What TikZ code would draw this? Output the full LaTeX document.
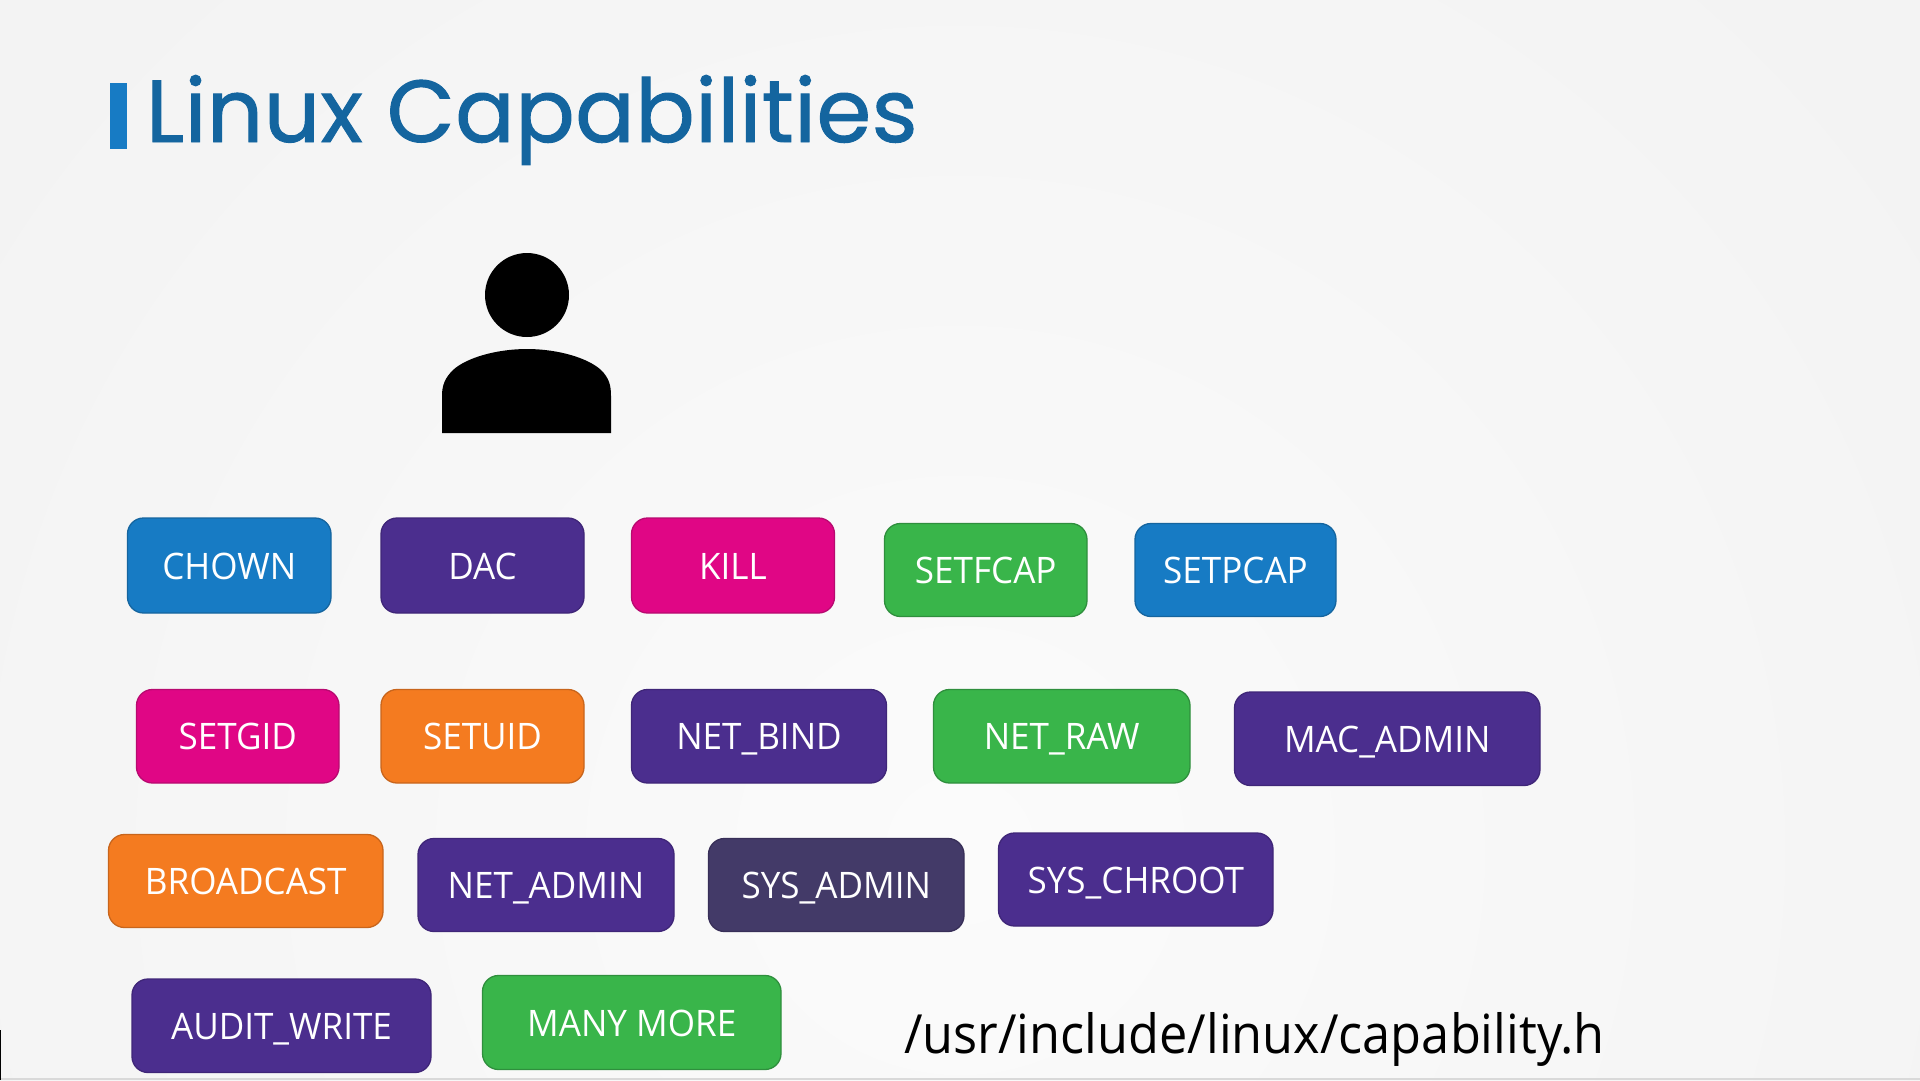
\documentclass[tikz,border=0pt]{standalone}
\usepackage{fontspec}
\setmainfont{Open Sans}
\newfontfamily\titlefont[FakeBold=1.1,LetterSpace=0.6]{Poppins}
\newfontfamily\capfont[FakeStretch=0.96]{Open Sans}
\newfontfamily\pathfont[FakeStretch=0.935]{Open Sans}
\definecolor{bgcol}{HTML}{F3F3F3}
\definecolor{bglight}{HTML}{FBFBFB}
\definecolor{capblue}{HTML}{177BC4}
\definecolor{capblueE}{HTML}{15659F}
\definecolor{cappurple}{HTML}{4B2E8E}
\definecolor{cappurpleE}{HTML}{3F2678}
\definecolor{capmagenta}{HTML}{E00685}
\definecolor{capmagentaE}{HTML}{B80A70}
\definecolor{capgreen}{HTML}{39B54A}
\definecolor{capgreenE}{HTML}{2F8F3D}
\definecolor{caporange}{HTML}{F47B20}
\definecolor{caporangeE}{HTML}{C8651C}
\definecolor{capslate}{HTML}{433A68}
\definecolor{capslateE}{HTML}{382F58}
\definecolor{titleblue}{HTML}{14659F}
\tikzset{
  x=1pt,y=-1pt,
  capnode/.style={rounded corners=16pt,line width=1.3pt,inner sep=0pt,text=white,
    font=\capfont\fontsize{36.5}{36.5}\selectfont,text height=27pt,text depth=0pt,align=center},
  sblue/.style={capnode,fill=capblue,draw=capblueE},
  spurple/.style={capnode,fill=cappurple,draw=cappurpleE},
  smagenta/.style={capnode,fill=capmagenta,draw=capmagentaE},
  sgreen/.style={capnode,fill=capgreen,draw=capgreenE},
  sorange/.style={capnode,fill=caporange,draw=caporangeE},
  sslate/.style={capnode,fill=capslate,draw=capslateE},
}
\newcommand{\capbox}[7]{% style,name,x0,y0,x1,y1,text
  \pgfmathsetmacro{\capw}{#5-#3}\pgfmathsetmacro{\caph}{#6-#4}
  \pgfmathsetmacro{\capx}{(#3+#5)/2}\pgfmathsetmacro{\capy}{(#4+#6)/2}
  \node[#1,minimum width=\capw pt,minimum height=\caph pt] (#2) at (\capx,\capy) {#7};}
\begin{document}
\begin{tikzpicture}
\useasboundingbox (0,0) rectangle (1920,1080);
\begin{scope}
\clip (0,0) rectangle (1920,1080);
\shade[inner color=bglight,outer color=bgcol] (-240,-350) rectangle (2160,2050);
\end{scope}
\fill[gray!30] (0,1078) rectangle (1920,1080);
\fill[black] (0,1030) rectangle (1.2,1080);
% title
\fill[capblue] (110,83) rectangle (126.5,149);
\node[anchor=base west,inner sep=0pt,text=titleblue,font=\titlefont\fontsize{88}{88}\selectfont] (title) at (146,142) {Linux Capabilities};
% person
\fill[black] (527,295) circle (42);
\fill[black] (442,433) -- (442,396) .. controls (442,385) and (445,378) .. (453,370)
  .. controls (466,358) and (496,349) .. (527,349)
  .. controls (558,349) and (588,358) .. (601,370)
  .. controls (609,378) and (611,385) .. (611,396) -- (611,433) -- cycle;
% capabilities
\capbox{sblue}{chown}{127.5}{518}{331}{613}{CHOWN}
\capbox{spurple}{dac}{381}{518}{584}{613}{DAC}
\capbox{smagenta}{kill}{631.5}{518}{834.5}{613}{KILL}
\capbox{sgreen}{setfcap}{884.5}{523.5}{1087}{616.5}{SETFCAP}
\capbox{sblue}{setpcap}{1135}{523.5}{1336}{616.5}{SETPCAP}
\capbox{smagenta}{setgid}{136.5}{689.5}{339}{783}{SETGID}
\capbox{sorange}{setuid}{381}{689.5}{584}{783}{SETUID}
\capbox{spurple}{netbind}{631.5}{689.5}{886.5}{783}{NET\_BIND}
\capbox{sgreen}{netraw}{933.5}{689.5}{1190}{783}{NET\_RAW}
\capbox{spurple}{macadmin}{1234.5}{692}{1540}{785.5}{MAC\_ADMIN}
\capbox{sorange}{broadcast}{108.5}{834.5}{383}{927.5}{BROADCAST}
\capbox{spurple}{netadmin}{418}{838.5}{674}{931.5}{NET\_ADMIN}
\capbox{sslate}{sysadmin}{708.5}{838.5}{964}{931.5}{SYS\_ADMIN}
\capbox{spurple}{syschroot}{998.5}{833}{1273}{926}{SYS\_CHROOT}
\capbox{spurple}{auditwrite}{132}{979}{431}{1072.5}{AUDIT\_WRITE}
\capbox{sgreen}{manymore}{482.5}{975.5}{781}{1069.5}{MANY MORE}
% path
\node[anchor=base west,inner sep=0pt,font=\pathfont\fontsize{54}{54}\selectfont,text=black] (path) at (904,1053) {/usr/include/linux/capability.h};
\end{tikzpicture}
\end{document}
